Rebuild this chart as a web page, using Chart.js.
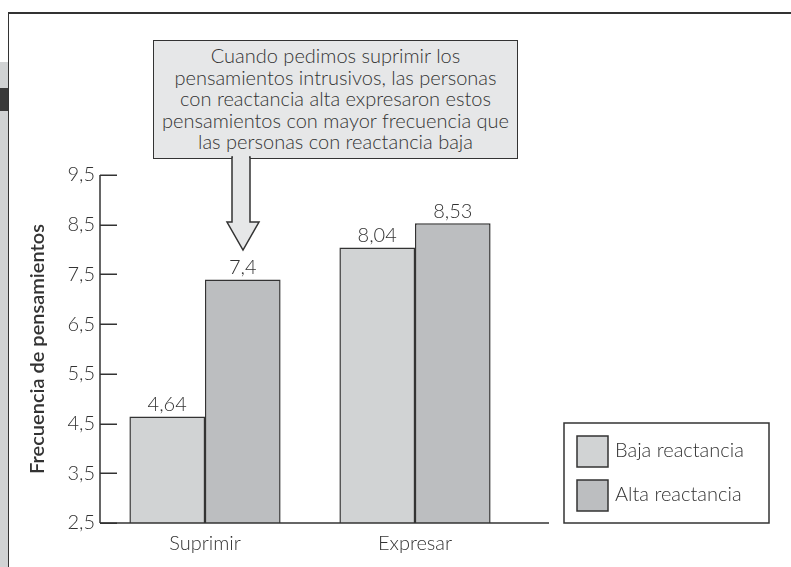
<!DOCTYPE html>
<html>
<head>
<meta charset="utf-8">
<script src="https://cdn.jsdelivr.net/npm/chart.js@4.4.0/dist/chart.umd.min.js"></script>
<style>
html,body{margin:0;padding:0;background:#fff;}
#wrap{position:relative;width:791px;height:567px;overflow:hidden;background:#fff;}
#strip{position:absolute;left:0;top:62px;width:8px;height:505px;background:#d1d3d4;}
#dark{position:absolute;left:0;top:88px;width:8px;height:23px;background:#3a3a3a;}
#frame{position:absolute;left:8px;top:12px;width:820px;height:620px;border-left:1.5px solid #333;border-top:2px solid #333;}
canvas{position:absolute;left:0;top:0;}
#callout{position:absolute;left:153px;top:40px;width:365px;height:119px;box-sizing:border-box;border:1.5px solid #333;background:#e6e7e8;font-family:Lato,sans-serif;font-weight:300;font-size:20px;color:#333;text-align:center;line-height:21.5px;padding-top:4px;white-space:nowrap;}
#arrow{position:absolute;left:0;top:0;}
</style>
</head>
<body>
<div id="wrap">
  <div id="strip"></div>
  <div id="dark"></div>
  <div id="frame"></div>
  <canvas id="c" width="791" height="567"></canvas>
  <div id="callout">Cuando pedimos suprimir los<br>pensamientos intrusivos, las personas<br>con reactancia alta expresaron estos<br>pensamientos con mayor frecuencia que<br>las personas con reactancia baja</div>
  <svg id="arrow" width="791" height="567">
    <polygon points="232,157 232,222 227,222 243,250 259,222 250,222 250,157" fill="#e6e7e8" stroke="#333" stroke-width="1.5"/>
    <rect x="233" y="155" width="16" height="4" fill="#e6e7e8"/>
  </svg>
</div>
<script>
const categories = ['Suprimir', 'Expresar'];
const seriesLabels = ['Baja reactancia', 'Alta reactancia'];
const bajaValues = [4.64, 8.04];
const altaValues = [7.4, 8.53];
const yTickValues = [2.5, 3.5, 4.5, 5.5, 6.5, 7.5, 8.5, 9.5];
const yTitle = 'Frecuencia de pensamientos';

const fmt = v => String(v).replace('.', ',');
const FONT = 'Lato, sans-serif';
const INK = '#333';

const decorPlugin = {
  id: 'decor',
  afterDraw(chart) {
    const ctx = chart.ctx;
    const ca = chart.chartArea;
    const ys = chart.scales.y;
    ctx.save();
    ctx.strokeStyle = INK;
    ctx.lineWidth = 1.5;
    // y tick marks pointing inwards
    yTickValues.forEach(v => {
      const y = Math.round(ys.getPixelForValue(v)) + 0.25;
      ctx.beginPath();
      ctx.moveTo(ca.left, y);
      ctx.lineTo(ca.left + 17, y);
      ctx.stroke();
    });
    // y axis line
    ctx.beginPath();
    ctx.moveTo(ca.left, ys.getPixelForValue(9.5));
    ctx.lineTo(ca.left, ca.bottom);
    ctx.stroke();
    // x axis line (extends beyond the category area)
    ctx.beginPath();
    ctx.moveTo(ca.left, ca.bottom);
    ctx.lineTo(ca.right + 29, ca.bottom);
    ctx.stroke();
    // value labels
    ctx.fillStyle = INK;
    ctx.font = '300 20px ' + FONT;
    ctx.textAlign = 'center';
    ctx.textBaseline = 'bottom';
    chart.data.datasets.forEach((ds, i) => {
      chart.getDatasetMeta(i).data.forEach((bar, j) => {
        ctx.fillText(fmt(ds.data[j]), bar.x, bar.y - 2);
      });
    });
    // legend
    const lx = ca.right + 44, ly = 423, lw = 205, lh = 100;
    ctx.strokeRect(lx, ly, lw, lh);
    ctx.textAlign = 'left';
    ctx.textBaseline = 'middle';
    chart.data.datasets.forEach((ds, i) => {
      const sy = ly + 13 + i * 44;
      ctx.fillStyle = ds.backgroundColor;
      ctx.fillRect(lx + 13, sy, 31, 31);
      ctx.strokeRect(lx + 13, sy, 31, 31);
      ctx.fillStyle = INK;
      ctx.fillText(ds.label, lx + 51, sy + 15);
    });
    ctx.restore();
  }
};

new Chart(document.getElementById('c'), {
  type: 'bar',
  data: {
    labels: categories,
    datasets: [
      { label: seriesLabels[0], data: bajaValues, backgroundColor: '#d1d3d4', borderColor: INK, borderWidth: 1.5, borderSkipped: false },
      { label: seriesLabels[1], data: altaValues, backgroundColor: '#bcbec0', borderColor: INK, borderWidth: 1.5, borderSkipped: false }
    ]
  },
  options: {
    responsive: false,
    animation: false,
    devicePixelRatio: 1,
    layout: { padding: { left: 0, top: 175, right: 271, bottom: 0 } },
    datasets: { bar: { categoryPercentage: 0.72, barPercentage: 1 } },
    plugins: { legend: { display: false }, tooltip: { enabled: false } },
    scales: {
      x: {
        grid: { display: false, drawTicks: false },
        border: { display: false },
        ticks: { color: INK, font: { family: FONT, size: 20, weight: 300 }, padding: 9 },
        afterFit(s) { s.height = 44; }
      },
      y: {
        min: 2.5, max: 9.5,
        grid: { display: false, drawTicks: false },
        border: { display: false },
        afterBuildTicks(s) { s.ticks = yTickValues.map(v => ({ value: v })); },
        ticks: { color: INK, font: { family: FONT, size: 20, weight: 300 }, padding: 5, callback: v => fmt(v) },
        title: { display: true, text: yTitle, color: INK, font: { family: FONT, size: 20, weight: 600 }, padding: { top: 26, bottom: 0 } },
        afterFit(s) { s.width = 100; }
      }
    }
  },
  plugins: [decorPlugin]
});
</script>
</body>
</html>
